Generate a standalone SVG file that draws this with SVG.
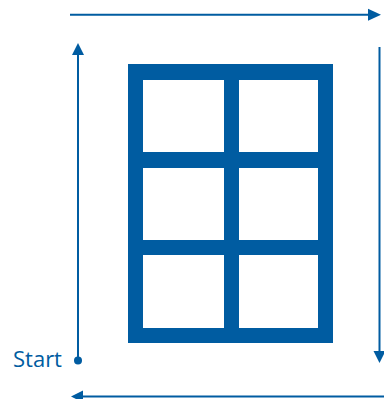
<svg xmlns="http://www.w3.org/2000/svg" width="384" height="399" viewBox="0 0 384 399">
<defs>
<style>
.ln{stroke:#005ca1;stroke-width:2;fill:none}
.hd{fill:#005ca1}
.fr{fill:#005ca1}
.pane{fill:#ffffff}
.lbl{font-family:"Open Sans","Noto Sans",sans-serif;font-size:22px;fill:#005ca1}
</style>
</defs>
<g id="window">
<rect class="fr" x="128" y="64" width="205" height="279"/>
<rect class="pane" x="143" y="80" width="81" height="72"/>
<rect class="pane" x="239" y="80" width="79" height="72"/>
<rect class="pane" x="143" y="168" width="81" height="72"/>
<rect class="pane" x="239" y="168" width="79" height="72"/>
<rect class="pane" x="143" y="255" width="81" height="73"/>
<rect class="pane" x="239" y="255" width="79" height="73"/>
</g>
<g id="start">
<text class="lbl" x="13" y="366.5">Start</text>
<circle class="hd" cx="78" cy="360.5" r="4"/>
</g>
<g id="connectors">
<line class="ln" x1="78" y1="360" x2="78" y2="54"/>
<polygon class="hd" points="78,43 72,55 84,55"/>
<line class="ln" x1="70" y1="14.7" x2="369" y2="14.7"/>
<polygon class="hd" points="381,14.7 368,8.7 368,20.7"/>
<line class="ln" x1="379.5" y1="47" x2="379.5" y2="352"/>
<polygon class="hd" points="379.5,363 373.5,351 385.5,351"/>
<line class="ln" x1="384" y1="396.5" x2="82" y2="396.5"/>
<polygon class="hd" points="71,396.5 83,390.5 83,402.5"/>
</g>
</svg>
